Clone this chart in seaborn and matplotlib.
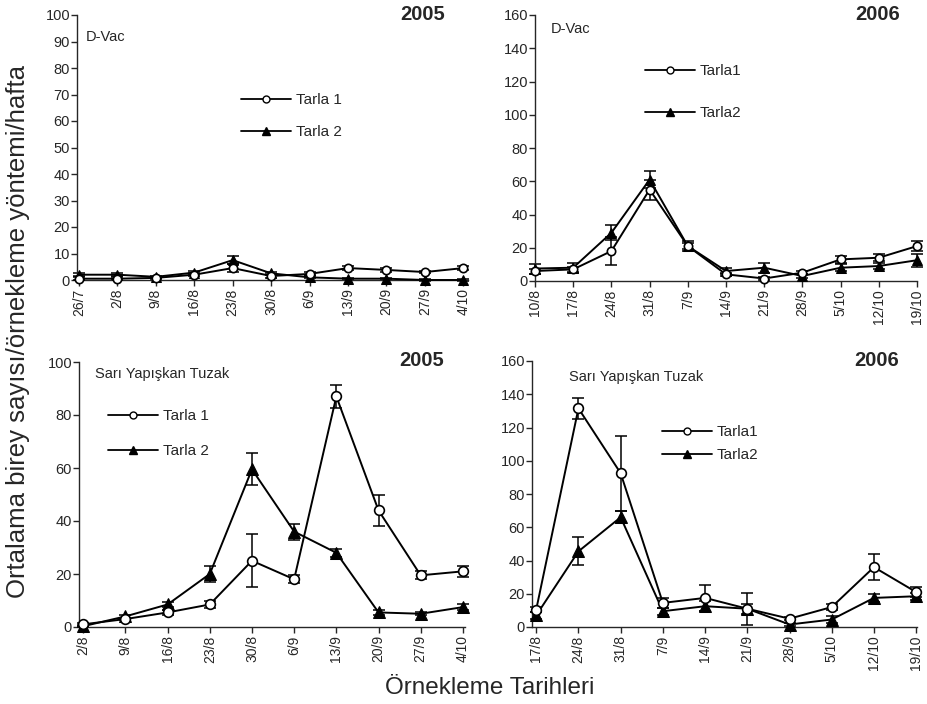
import pandas as pd
import seaborn as sns
import matplotlib.pyplot as plt
from matplotlib.lines import Line2D

# D-Vac 2005
dvac05_dates = ['26/7', '2/8', '9/8', '16/8', '23/8', '30/8', '6/9', '13/9', '20/9', '27/9', '4/10']
dvac05_t1 = [0.5, 0.5, 0.8, 2.0, 4.5, 1.5, 2.3, 4.5, 3.8, 3.0, 4.5]
dvac05_t1_err = [0.5, 0.5, 0.4, 0.6, 1.5, 0.6, 0.6, 0.6, 0.6, 0.5, 0.6]
dvac05_t2 = [2.0, 2.0, 1.2, 2.8, 7.5, 2.5, 1.0, 0.5, 0.5, 0.0, 0.0]
dvac05_t2_err = [0.6, 0.6, 0.4, 0.6, 1.6, 0.6, 0.4, 0.3, 0.3, 0.2, 0.2]

# D-Vac 2006
dvac06_dates = ['10/8', '17/8', '24/8', '31/8', '7/9', '14/9', '21/9', '28/9', '5/10', '12/10', '19/10']
dvac06_t1 = [6, 7, 18, 55, 21, 4, 1.5, 5, 13, 14, 21]
dvac06_t1_err = [1.5, 1.5, 8.5, 6, 2, 1, 1, 1, 2, 2, 3]
dvac06_t2 = [7.5, 8, 29, 61, 21, 6, 8, 3, 8, 9, 12.5]
dvac06_t2_err = [3, 3, 4.5, 5, 3, 2, 3, 1, 2, 2, 4]

# Sari yapiskan tuzak 2005
sy05_dates = ['2/8', '9/8', '16/8', '23/8', '30/8', '6/9', '13/9', '20/9', '27/9', '4/10']
sy05_t1 = [1, 3, 5.5, 8.5, 25, 18, 87, 44, 19.5, 21]
sy05_t1_err = [0.5, 0.5, 1, 1.5, 10, 1.5, 4.5, 6, 1.5, 2]
sy05_t2 = [0.3, 4, 8.5, 20, 59.5, 36, 28, 5.5, 5, 7.5]
sy05_t2_err = [0.3, 0.6, 1, 3, 6, 3, 1.5, 1, 0.6, 1]

# Sari yapiskan tuzak 2006
sy06_dates = ['17/8', '24/8', '31/8', '7/9', '14/9', '21/9', '28/9', '5/10', '12/10', '19/10']
sy06_t1 = [10.5, 131.5, 92.5, 14.5, 17.5, 11, 5, 12, 36, 21]
sy06_t1_err = [1.5, 6.5, 22.5, 3, 8, 9.5, 1, 2, 8, 3]
sy06_t2 = [7, 45.5, 66, 9.5, 12.5, 11, 1.5, 4.5, 17.5, 18.5]
sy06_t2_err = [2, 8.5, 3.5, 2, 3, 3, 1, 2, 2.5, 2]

sns.set_style('ticks')
plt.rcParams['font.family'] = ['Liberation Sans', 'DejaVu Sans']

fig = plt.figure(figsize=(9.28, 7.04), dpi=100)
W, H = 928, 704


def add_ax(x0, x1, ytop, ybot):
    return fig.add_axes([x0 / W, 1 - ybot / H, (x1 - x0) / W, (ybot - ytop) / H])


def panel(ax, dates, t1, e1, t2, e2, ymax, ystep, xlim, year, year_xy, label, label_xy,
          leg_labels, leg_xy, leg_space, ms):
    x = list(range(len(dates)))
    df1 = pd.DataFrame({'x': x, 'y': t1})
    df2 = pd.DataFrame({'x': x, 'y': t2})
    ax.errorbar(x, t1, yerr=e1, fmt='none', ecolor='black', elinewidth=1.1,
                capsize=4.5, capthick=1.1, clip_on=False, zorder=2)
    ax.errorbar(x, t2, yerr=e2, fmt='none', ecolor='black', elinewidth=1.1,
                capsize=4.5, capthick=1.1, clip_on=False, zorder=2)
    sns.lineplot(data=df2, x='x', y='y', ax=ax, color='black', lw=1.4,
                 marker='^', markersize=ms + 1, markerfacecolor='black',
                 markeredgecolor='black', clip_on=False, zorder=3)
    sns.lineplot(data=df1, x='x', y='y', ax=ax, color='black', lw=1.4,
                 marker='o', markersize=ms, markerfacecolor='white',
                 markeredgecolor='black', markeredgewidth=1.2, clip_on=False, zorder=4)
    ax.set_xlim(*xlim)
    ax.set_ylim(0, ymax)
    ax.set_yticks(range(0, ymax + 1, ystep))
    ax.set_xticks(x)
    ax.set_xticklabels(dates, rotation=90, fontsize=10)
    ax.tick_params(axis='y', labelsize=10.5, length=4, width=1, pad=1)
    ax.tick_params(axis='x', length=4, width=1, pad=2)
    ax.set_xlabel('')
    ax.set_ylabel('')
    for s in ['top', 'right']:
        ax.spines[s].set_visible(False)
    for s in ['left', 'bottom']:
        ax.spines[s].set_linewidth(1)
    fig.text(year_xy[0] / W, 1 - year_xy[1] / H, year, ha='right', va='center',
             fontsize=14.5, fontweight='bold')
    fig.text(label_xy[0] / W, 1 - label_xy[1] / H, label, ha='left', va='center',
             fontsize=10.5)
    handles = [
        Line2D([], [], color='black', lw=1.3, marker='o', markersize=5,
               markerfacecolor='white', markeredgecolor='black'),
        Line2D([], [], color='black', lw=1.3, marker='^', markersize=6,
               markerfacecolor='black', markeredgecolor='black'),
    ]
    ax.legend(handles, leg_labels, loc='upper left',
              bbox_to_anchor=(leg_xy[0] / W, 1 - leg_xy[1] / H),
              bbox_transform=fig.transFigure, frameon=False, fontsize=11,
              handlelength=3.3, handletextpad=0.3, labelspacing=leg_space,
              borderpad=0, borderaxespad=0, numpoints=1)


ax1 = add_ax(77, 468, 15, 280)
panel(ax1, dvac05_dates, dvac05_t1, dvac05_t1_err, dvac05_t2, dvac05_t2_err,
      100, 10, (-0.05, 10.12), '2005', (445, 14), 'D-Vac', (86, 37),
      ['Tarla 1', 'Tarla 2'], (241, 93), 1.2, 6)

ax2 = add_ax(535, 917, 15, 281)
panel(ax2, dvac06_dates, dvac06_t1, dvac06_t1_err, dvac06_t2, dvac06_t2_err,
      160, 20, (0, 10), '2006', (900, 14), 'D-Vac', (551, 29),
      ['Tarla1', 'Tarla2'], (645, 64), 1.85, 6)

ax3 = add_ax(79, 465, 362, 627)
panel(ax3, sy05_dates, sy05_t1, sy05_t1_err, sy05_t2, sy05_t2_err,
      100, 20, (-0.1, 9.05), '2005', (444, 360), 'Sarı Yapışkan Tuzak', (95, 374),
      ['Tarla 1', 'Tarla 2'], (108, 409), 1.4, 7)

ax4 = add_ax(532, 917, 361, 627)
panel(ax4, sy06_dates, sy06_t1, sy06_t1_err, sy06_t2, sy06_t2_err,
      160, 20, (-0.1, 9.02), '2006', (899, 361), 'Sarı Yapışkan Tuzak', (569, 377),
      ['Tarla1', 'Tarla2'], (662, 425), 0.6, 7)

fig.text(18 / W, 1 - 332 / H, 'Ortalama birey sayısı/örnekleme yöntemi/hafta',
         rotation=90, ha='center', va='center', fontsize=18.5)
fig.text(490 / W, 1 - 688 / H, 'Örnekleme Tarihleri', ha='center', va='center',
         fontsize=17.5)

fig.savefig('out.png', dpi=100)
